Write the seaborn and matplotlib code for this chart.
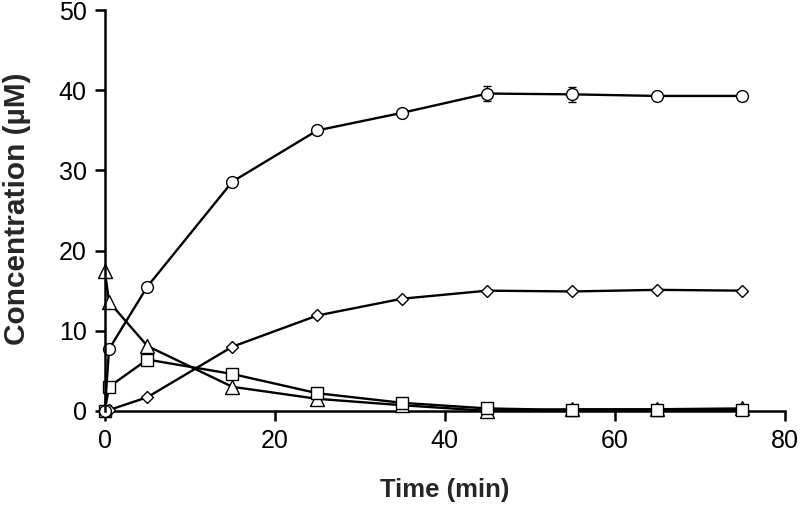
import matplotlib
matplotlib.use("Agg")
import matplotlib.pyplot as plt
import seaborn as sns
import numpy as np
import pandas as pd

# ---- data ----
time_min = [0, 0.5, 5, 15, 25, 35, 45, 55, 65, 75]
circle_vals = [0.0, 7.7, 15.5, 28.6, 35.0, 37.2, 39.6, 39.5, 39.3, 39.3]
circle_err = [0.0, 0.2, 0.2, 0.3, 0.3, 0.3, 0.9, 0.9, 0.3, 0.3]
diamond_vals = [0.0, 0.1, 1.7, 8.0, 11.9, 14.0, 15.0, 14.9, 15.1, 15.0]
square_vals = [0.0, 3.0, 6.4, 4.6, 2.2, 1.0, 0.3, 0.1, 0.1, 0.1]
triangle_vals = [17.5, 13.6, 8.1, 3.0, 1.5, 0.7, 0.0, 0.2, 0.2, 0.3]

x_ticks = [0, 20, 40, 60, 80]
y_ticks = [0, 10, 20, 30, 40, 50]
x_label = "Time (min)"
y_label = "Concentration (\u00b5M)"

sns.set_theme(style="ticks")
plt.rcParams['font.family'] = ['Liberation Sans', 'DejaVu Sans']

fig = plt.figure(figsize=(8, 5.11), dpi=100)
ax = fig.add_axes([0.131, 0.196, 0.850, 0.784])

series = [
    (triangle_vals, "^", 9.5),
    (square_vals, "s", 8.5),
    (diamond_vals, "D", 6.5),
    (circle_vals, "o", 8.5),
]
for vals, mk, ms in series:
    df = pd.DataFrame({"t": time_min, "c": vals})
    sns.lineplot(data=df, x="t", y="c", ax=ax, color="black", linewidth=1.7,
                 marker=mk, markersize=ms, markerfacecolor="white",
                 markeredgecolor="black", markeredgewidth=1.0, zorder=3)

ax.errorbar(time_min, circle_vals, yerr=circle_err, fmt="none", ecolor="black",
            elinewidth=1.0, capsize=3, capthick=1.0, zorder=2)

ax.set_xlim(0, 80)
ax.set_ylim(0, 50)
ax.set_xticks(x_ticks)
ax.set_yticks(y_ticks)
ax.tick_params(axis="both", direction="out", length=7, width=1.8,
               labelsize=18, colors="black", pad=6)
for s in ["left", "bottom"]:
    ax.spines[s].set_linewidth(1.8)
    ax.spines[s].set_color("black")
sns.despine(ax=ax)
ax.spines["left"].set_zorder(5)

ax.set_xlabel(x_label, fontsize=18.5, fontweight="bold")
ax.set_ylabel(y_label, fontsize=21.5, fontweight="bold")
ax.xaxis.set_label_coords(0.5, -0.168)
ax.yaxis.set_label_coords(-0.108, 0.505)
for line in ax.lines:
    line.set_clip_on(False)

fig.savefig("out.png", dpi=100)
